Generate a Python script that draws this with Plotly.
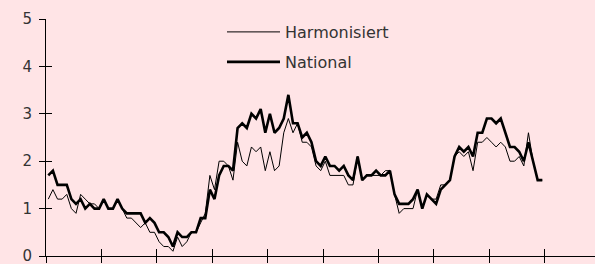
import numpy as np
import plotly.graph_objects as go

# Monthly inflation rates (% y/y)
harmonisiert = [1.2,1.4,1.2,1.2,1.3,1.0,0.9,1.3,1.2,1.1,1.1,1.0,1.2,1.0,1.0,1.2,1.0,0.8,0.8,0.7,
                0.6,0.7,0.5,0.5,0.3,0.2,0.2,0.1,0.4,0.2,0.3,0.5,0.5,0.7,0.9,1.7,1.4,2.0,2.0,1.9,
                1.6,2.4,2.0,1.9,2.3,2.2,2.3,1.8,2.2,1.8,1.9,2.6,2.9,2.6,2.8,2.4,2.4,2.3,1.9,1.8,
                2.0,1.7,1.7,1.7,1.7,1.5,1.5,2.1,1.6,1.7,1.7,1.7,1.7,1.8,1.8,1.3,0.9,1.0,1.0,1.0,
                1.4,1.0,1.3,1.2,1.2,1.5,1.5,1.6,2.1,2.2,2.1,2.2,1.8,2.4,2.4,2.5,2.4,2.3,2.4,2.3,
                2.0,2.0,2.1,1.9,2.6,2.0,1.6,1.6]
national = [1.7,1.8,1.5,1.5,1.5,1.2,1.1,1.2,1.0,1.1,1.0,1.0,1.2,1.0,1.0,1.2,1.0,0.9,0.9,0.9,
            0.9,0.7,0.8,0.7,0.5,0.5,0.4,0.2,0.5,0.4,0.4,0.5,0.5,0.8,0.8,1.4,1.2,1.7,1.9,1.9,
            1.8,2.7,2.8,2.7,3.0,2.9,3.1,2.6,3.0,2.6,2.7,2.9,3.4,2.8,2.8,2.5,2.6,2.4,2.0,1.9,
            2.1,1.9,1.9,1.8,1.9,1.7,1.6,2.1,1.6,1.7,1.7,1.8,1.7,1.7,1.8,1.3,1.1,1.1,1.1,1.2,
            1.4,1.0,1.3,1.2,1.1,1.4,1.5,1.6,2.1,2.3,2.2,2.3,2.1,2.6,2.6,2.9,2.9,2.8,2.9,2.6,
            2.3,2.3,2.2,2.0,2.4,2.0,1.6,1.6]
series_names = ["Harmonisiert", "National"]
y_ticks = [0, 1, 2, 3, 4, 5]
year_ticks = list(range(0, 121, 12))   # month index of each year boundary

months = np.arange(len(national)) + 0.5   # plotted mid-month

BG = "#FFE4E6"
TXT = "#333333"
FONT = "DejaVu Sans"
x_range = [0, 549 / (55.4 / 12)]
y_range = [0, 5]

L, T, B = 46, 19, 8
PW, PH = 595 - L, 264 - T - B

fig = go.Figure()
fig.add_trace(go.Scatter(x=months, y=harmonisiert, name=series_names[0], mode="lines",
                         line=dict(color="#000000", width=1), xaxis="x2", yaxis="y2",
                         legend="legend"))
fig.add_trace(go.Scatter(x=months, y=national, name=series_names[1], mode="lines",
                         line=dict(color="#000000", width=2.6), legend="legend2"))

common_leg = dict(xanchor="left", yanchor="middle",
                  bgcolor="rgba(0,0,0,0)", borderwidth=0, itemwidth=53,
                  font=dict(family=FONT, size=16, color=TXT))

fig.update_layout(
    width=595, height=264,
    margin=dict(l=L, r=0, t=T, b=B, autoexpand=False),
    paper_bgcolor=BG, plot_bgcolor=BG,
    showlegend=True,
    legend=dict(x=(222 - L) / PW, y=(264 - B - 32) / PH, **common_leg),
    legend2=dict(x=(222 - L) / PW, y=(264 - B - 62) / PH, **common_leg),
    xaxis=dict(range=x_range, tickvals=year_ticks, showticklabels=False,
               ticks="outside", ticklen=6, tickcolor="#000", showgrid=False,
               zeroline=False, showline=True, linecolor="#000", linewidth=1),
    yaxis=dict(range=y_range, tickvals=y_ticks, ticks="outside", ticklen=6,
               tickcolor="#000", showgrid=False, zeroline=False, showline=True,
               linecolor="#000", linewidth=1, ticklabelstandoff=4,
               ticklabeloverflow="allow",
               tickfont=dict(family=FONT, size=15, color=TXT)),
    xaxis2=dict(range=x_range, tickvals=year_ticks, showticklabels=False, overlaying="x",
                ticks="inside", ticklen=7, tickcolor="#000", showgrid=False,
                zeroline=False, showline=False, anchor="y2"),
    yaxis2=dict(range=y_range, tickvals=y_ticks, showticklabels=False, overlaying="y",
                ticks="inside", ticklen=6, tickcolor="#000", showgrid=False,
                zeroline=False, showline=False, anchor="x2"),
)

fig.write_html(
    "out.html",
    config={"displayModeBar": False},
    post_script="document.body.style.margin='0';"
                "document.body.style.background='" + BG + "';"
                "document.body.style.overflow='hidden';",
)
